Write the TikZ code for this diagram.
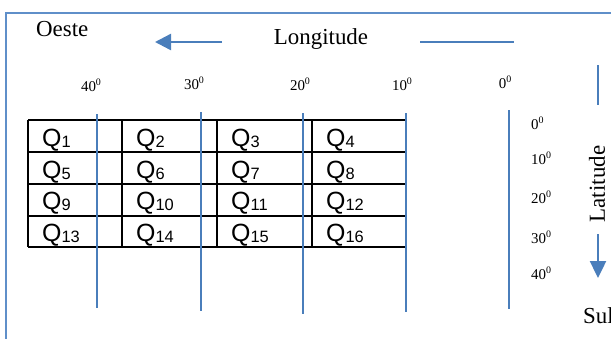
\documentclass[tikz,border=0pt]{standalone}
\usepackage{fontspec}
\setmainfont{Liberation Serif}
\newfontfamily\qfont{Liberation Sans}
\usetikzlibrary{arrows.meta}
\definecolor{lineblue}{HTML}{4A7EBB}
\definecolor{frameblue}{HTML}{5F8FC9}
\newcommand{\qsub}[1]{Q\raisebox{-0.06em}{\fontsize{16.5}{17}\selectfont #1}}
\newcommand{\degr}[1]{#1\raisebox{0.42em}{\fontsize{10}{10}\selectfont 0}}
\tikzset{
  bigtxt/.style={inner sep=0pt, font=\fontsize{23}{27}\selectfont},
  degtxt/.style={inner sep=0pt, font=\fontsize{15}{17}\selectfont},
  qtxt/.style={inner sep=0pt, anchor=base west, font=\qfont\fontsize{25}{28}\selectfont},
  gridline/.style={draw=lineblue, line width=1.6bp},
  bluearrow/.style={draw=lineblue, line width=2.4bp},
  framebox/.style={draw=frameblue, line width=1.3bp},
  tableline/.style={draw=black, line width=1.7bp}
}
\begin{document}
\begin{tikzpicture}[x=1bp,y=-1bp]
\useasboundingbox (0,0) rectangle (611,338);
\clip (0,0) rectangle (611,338);
% frame
\draw[framebox] (6,345) -- (6,13) -- (620,13);
% titles
\node[bigtxt, anchor=west] (oeste) at (36,29) {Oeste};
\node[bigtxt] (longitude) at (321,39) {Longitude};
\coordinate (la1) at (222,42);
\coordinate (la2) at (155,42);
\draw[bluearrow, -{Triangle[width=16bp,length=16bp]}] (la1) -- (la2);
\coordinate (lr1) at (420,42);
\coordinate (lr2) at (514,42);
\draw[bluearrow] (lr1) -- (lr2);
% longitude degree labels
\node[degtxt] (d40) at (91,85) {\degr{40}};
\node[degtxt] (d30) at (194,83) {\degr{30}};
\node[degtxt] (d20) at (300,84) {\degr{20}};
\node[degtxt] (d10) at (402,84) {\degr{10}};
\node[degtxt] (d0) at (505,82) {\degr{0}};
% table
\foreach \x in {28,122,217,312,406} \draw[tableline] (\x,120) -- (\x,247);
\foreach \y in {120,152,184,216,247} \draw[tableline] (28,\y) -- (406,\y);
\foreach \r [count=\i from 0] in {146,178,209,241} {
  \foreach \c [count=\j from 0] in {42,136,231,326} {
    \pgfmathtruncatemacro{\n}{\i*4+\j+1}
    \node[qtxt] (q\n) at (\c,\r) {\qsub{\n}};
  }
}
% meridian lines
\coordinate (m1a) at (97,114); \coordinate (m1b) at (97,308);
\coordinate (m2a) at (201,112); \coordinate (m2b) at (201,311);
\coordinate (m3a) at (303,113); \coordinate (m3b) at (303,314);
\coordinate (m4a) at (406,113); \coordinate (m4b) at (406,312);
\coordinate (m5a) at (509,110); \coordinate (m5b) at (509,309);
\draw[gridline] (m1a) -- (m1b);
\draw[gridline] (m2a) -- (m2b);
\draw[gridline] (m3a) -- (m3b);
\draw[gridline] (m4a) -- (m4b);
\draw[gridline] (m5a) -- (m5b);
% latitude labels
\node[degtxt, anchor=west] (l0) at (531,123) {\degr{0}};
\node[degtxt, anchor=west] (l10) at (531,158) {\degr{10}};
\node[degtxt, anchor=west] (l20) at (531,197) {\degr{20}};
\node[degtxt, anchor=west] (l30) at (531,237) {\degr{30}};
\node[degtxt, anchor=west] (l40) at (531,273) {\degr{40}};
% latitude axis
\coordinate (v1) at (598,65); \coordinate (v2) at (598,105);
\draw[bluearrow] (v1) -- (v2);
\node[bigtxt, rotate=90] (latitude) at (597,184) {Latitude};
\coordinate (a1) at (598,234); \coordinate (a2) at (598,278);
\draw[bluearrow, -{Triangle[width=16bp,length=17bp]}] (a1) -- (a2);
\node[bigtxt, anchor=west] (sul) at (583,316) {Sul};
\end{tikzpicture}
\end{document}
